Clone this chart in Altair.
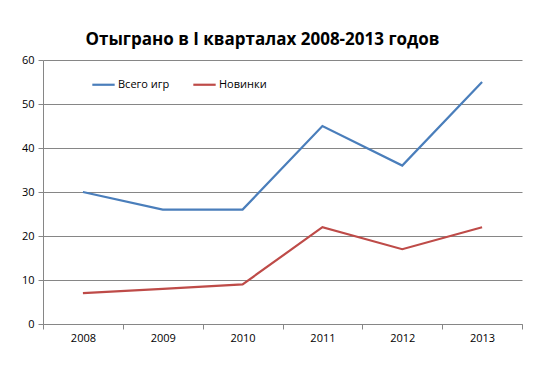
import altair as alt
import pandas as pd

years = ["2008", "2009", "2010", "2011", "2012", "2013"]
total_games = [30, 26, 26, 45, 36, 55]
new_games = [7, 8, 9, 22, 17, 22]
series_names = ["Всего игр", "Новинки"]
series_colors = ["#4A7EBB", "#BE4B48"]

rows = []
for y, v in zip(years, total_games):
    rows.append({"year": y, "value": v, "series": series_names[0]})
for y, v in zip(years, new_games):
    rows.append({"year": y, "value": v, "series": series_names[1]})
df = pd.DataFrame(rows)

font = "Open Sans"

chart = alt.Chart(df).mark_line(strokeWidth=2.2).encode(
    x=alt.X("year:O", title=None,
            scale=alt.Scale(type="band", paddingInner=0, paddingOuter=0),
            bandPosition=0.5,
            axis=alt.Axis(labelAngle=0, tickBand="extent", grid=False,
                          domainColor="#868686", tickColor="#868686",
                          tickSize=5, labelPadding=3, labelFontSize=11,
                          labelColor="#000000", labelFont=font)),
    y=alt.Y("value:Q", title=None,
            scale=alt.Scale(domain=[0, 60], nice=False),
            axis=alt.Axis(values=[0, 10, 20, 30, 40, 50, 60],
                          gridColor="#868686", gridWidth=1,
                          domainColor="#868686", tickColor="#868686",
                          tickSize=5, labelPadding=4, labelFontSize=11,
                          labelColor="#000000", labelFont=font)),
    color=alt.Color("series:N",
                    scale=alt.Scale(domain=series_names, range=series_colors),
                    sort=series_names,
                    legend=alt.Legend(title=None, orient="none",
                                      direction="horizontal",
                                      legendX=48, legendY=12,
                                      symbolType="stroke", symbolSize=500,
                                      symbolStrokeWidth=2.2,
                                      labelFontSize=11, labelFont=font,
                                      labelColor="#000000",
                                      columnPadding=18, labelOffset=2)),
).properties(
    width=479,
    height=264,
    title=alt.TitleParams("Отыграно в I кварталах 2008-2013 годов",
                          font=font, fontSize=17, fontWeight="bold",
                          color="#000000", offset=5, anchor="middle", dx=-20),
    padding={"left": 13, "top": 23, "right": 5, "bottom": 5},
    background="white",
).configure_view(stroke=None)

chart.save("out.html", embed_options={"renderer": "svg", "actions": False})
